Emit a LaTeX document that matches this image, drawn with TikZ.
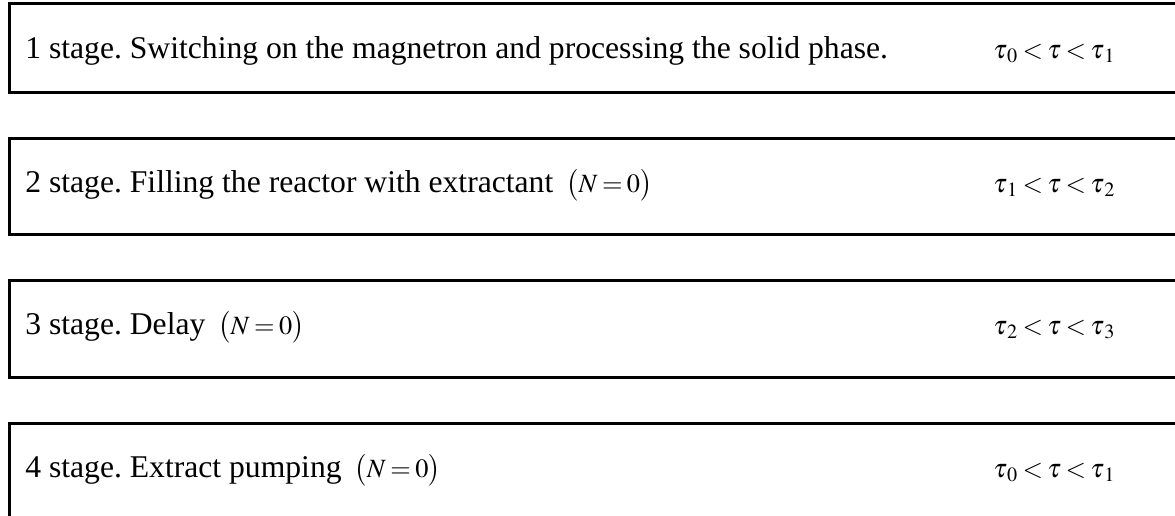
\documentclass[tikz,border=0pt]{standalone}
\usepackage{mathptmx}
\usepackage{fontspec}
\setmainfont{Liberation Serif}
\usepackage{tikz}
\usetikzlibrary{positioning,calc}
\DeclareMathSizes{15}{15}{11.5}{9}
\thickmuskip=3mu
\medmuskip=3mu
\frenchspacing
\newcommand{\eqfont}{\fontsize{15}{18}\selectfont}

\begin{document}
\begin{tikzpicture}[
  stagebox/.style={rectangle, draw=black, line width=1.7pt, minimum width=25cm, anchor=north west, inner sep=0pt},
  stagetxt/.style={anchor=base west, inner sep=0pt, font=\fontsize{18}{22}\selectfont},
  timetxt/.style={anchor=base west, inner sep=0pt, font=\eqfont}
]
\useasboundingbox (0,0) rectangle (23.5,-10.3);
\clip (0,0) rectangle (23.5,-10.3);

\node[stagebox, minimum height=1.78cm] (stage1) at (0.16,-0.04) {};
\node[stagebox, minimum height=1.92cm] (stage2) at (0.16,-2.74) {};
\node[stagebox, minimum height=1.94cm] (stage3) at (0.16,-5.58) {};
\node[stagebox, minimum height=1.94cm] (stage4) at (0.16,-8.44) {};

\node[stagetxt] (lbl1) at (0.5,-1.17) {1 stage. Switching on the magnetron and processing the solid phase.};
\node[stagetxt] (lbl2) at (0.5,-3.84) {2 stage. Filling the reactor with extractant\, {\eqfont$\bigl(N=0\bigr)$}};
\node[stagetxt] (lbl3) at (0.5,-6.68) {3 stage. Delay\, {\eqfont$\bigl(N=0\bigr)$}};
\node[stagetxt] (lbl4) at (0.5,-9.54) {4 stage. Extract pumping\, {\eqfont$\bigl(N=0\bigr)$}};

\node[timetxt] (time1) at (19.86,-1.17) {$\tau_{\,0}<\tau<\tau_{\,1}$};
\node[timetxt] (time2) at (19.86,-3.84) {$\tau_{\,1}<\tau<\tau_{\,2}$};
\node[timetxt] (time3) at (19.86,-6.68) {$\tau_{\,2}<\tau<\tau_{\,3}$};
\node[timetxt] (time4) at (19.86,-9.54) {$\tau_{\,0}<\tau<\tau_{\,1}$};
\end{tikzpicture}
\end{document}
